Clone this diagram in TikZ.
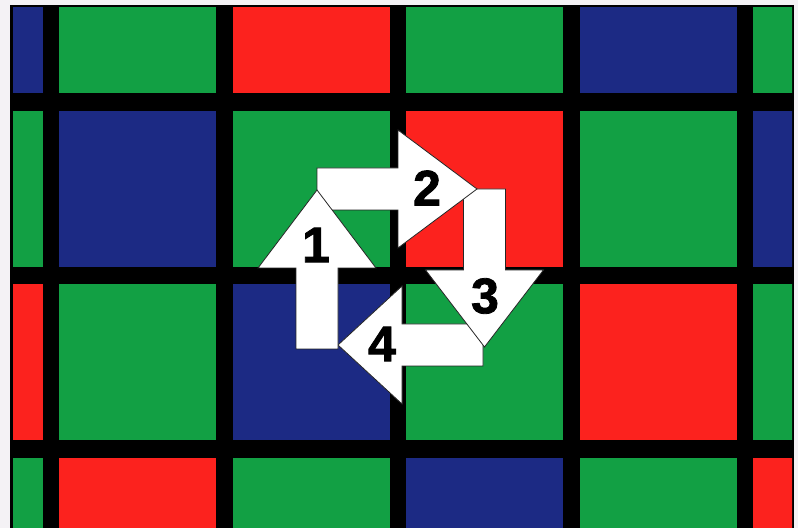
\documentclass[tikz,border=0pt]{standalone}
\usepackage{fontspec}
\newfontfamily\digitfont{Liberation Sans}[BoldFeatures = {FakeBold = 1.6}]
\usetikzlibrary{positioning}
\definecolor{cellgreen}{RGB}{18,160,68}
\definecolor{cellred}{RGB}{252,34,30}
\definecolor{cellblue}{RGB}{28,42,132}
\definecolor{paper}{RGB}{244,242,245}
\tikzset{
  cell/.style = {fill = #1},
  frame/.style = {fill = black},
  arrowshape/.style = {fill = white, draw = black!85, line width = 0.4pt, line join = miter},
  number/.style = {inner sep = 0, text = black,
    font = \digitfont\bfseries\fontsize{25}{25}\selectfont}
}
%% tail point, direction, head length
\newcommand {\cyclearrow} [3] {
  \begin{scope} [shift = {#1}, rotate = #2]
  \path [arrowshape] (0,-21) -- (81,-21) -- (81,-59) -- (81+#3,0)
    -- (81,59) -- (81,21) -- (0,21) -- cycle;
  \end{scope}
}

\begin{document}
\begin{tikzpicture} [x = 0.5pt, y = -0.5pt]
\useasboundingbox [fill = paper] (0,0) rectangle (798,528);

%% Frame
\path [frame] (10,5) rectangle (794,528);

%% Colour filter cells
\begin{scope}
\clip (13,8) rectangle (792,528);
\foreach \r/\cols in {
    0/{cellblue,cellgreen,cellred,cellgreen,cellblue,cellgreen},
    1/{cellgreen,cellblue,cellgreen,cellred,cellgreen,cellblue},
    2/{cellred,cellgreen,cellblue,cellgreen,cellred,cellgreen},
    3/{cellgreen,cellred,cellgreen,cellblue,cellgreen,cellred}}
  \foreach \cc [count = \c from 0] in \cols
    \path [cell = \cc] (-114.5+173.5*\c, -62.5+173.5*\r) rectangle ++(157,156);
\end{scope}

%% Arrows, last one on top
\cyclearrow{(483,345)}{180}{64}
\cyclearrow{(484.5,189)}{-90}{77}
\cyclearrow{(317,189)}{0}{79}
\cyclearrow{(317,349)}{90}{78}

%% Labels
\node [number] (n1) at (316,245) {1};
\node [number] (n2) at (427,188) {2};
\node [number] (n3) at (485,296) {3};
\node [number] (n4) at (382,344) {4};

\end{tikzpicture}
\end{document}
